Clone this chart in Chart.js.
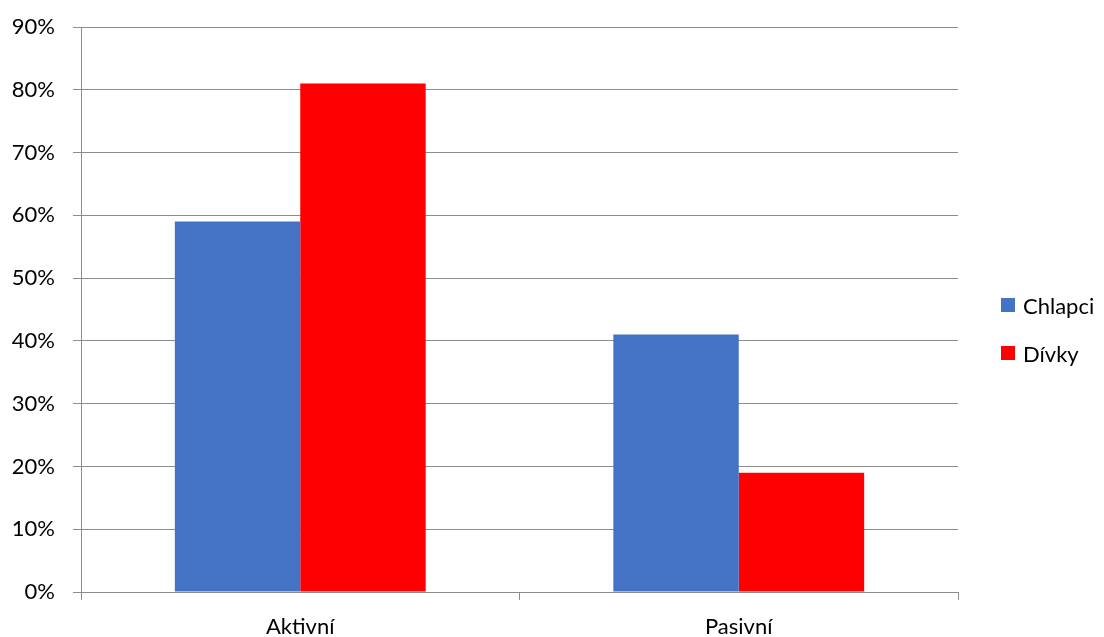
<!DOCTYPE html>
<html>
<head>
<meta charset="utf-8">
<script src="https://cdn.jsdelivr.net/npm/chart.js@4/dist/chart.umd.min.js"></script>
<style>
  body { margin: 0; background: #fff; }
  #wrap { position: relative; width: 1104px; height: 637px; overflow: hidden; }
  #legenda { position: absolute; left: 1001px; top: 293px; font-family: Lato, sans-serif; font-size: 22px; color: #000; }
  #legenda .polozka { display: flex; align-items: center; height: 24px; margin-bottom: 24px; }
  #legenda .ctverec { width: 14px; height: 14px; margin-right: 8px; }
</style>
</head>
<body>
<div id="wrap">
  <canvas id="graf" width="1104" height="637"></canvas>
  <div id="legenda"></div>
</div>
<script>
// kategorie a hodnoty (v %)
const kategorie = ['Aktivní', 'Pasivní'];
const chlapci = [59, 41];
const divky = [81, 19];
const osaY = [0, 10, 20, 30, 40, 50, 60, 70, 80, 90];

const seda = '#8c8c8c';

const graf = new Chart(document.getElementById('graf'), {
    type: 'bar',
    data: {
        labels: kategorie,
        datasets: [
            { label: 'Chlapci', data: chlapci, backgroundColor: '#4472C4' },
            { label: 'Dívky', data: divky, backgroundColor: '#FF0000' }
        ]
    },
    options: {
        responsive: false,
        devicePixelRatio: 1,
        animation: false,
        layout: { padding: { top: 27, right: 146, bottom: 0, left: 0 } },
        datasets: { bar: { categoryPercentage: 0.572, barPercentage: 1 } },
        plugins: { legend: { display: false }, tooltip: { enabled: false } },
        scales: {
            x: {
                grid: { drawOnChartArea: false, drawTicks: true, tickLength: 8, color: seda },
                border: { color: seda },
                ticks: { padding: 14, color: '#000', font: { family: 'Lato', size: 22 } },
                afterFit: s => { s.height = 45; }
            },
            y: {
                min: osaY[0],
                max: osaY[osaY.length - 1],
                afterBuildTicks: s => { s.ticks = osaY.map(v => ({ value: v })); },
                grid: { color: seda, tickLength: 8 },
                border: { color: seda },
                ticks: { padding: 18, color: '#000', font: { family: 'Lato', size: 22 }, callback: v => v + '%' },
                // pevna sirka osy a bez extra mezery nahore
                afterFit: s => { s.width = 81; s.paddingTop = 13; }
            }
        }
    }
});

// legenda vpravo
const legenda = document.getElementById('legenda');
graf.data.datasets.forEach(ds => {
    const p = document.createElement('div');
    p.className = 'polozka';
    const c = document.createElement('span');
    c.className = 'ctverec';
    c.style.background = ds.backgroundColor;
    const t = document.createElement('span');
    t.textContent = ds.label;
    p.appendChild(c);
    p.appendChild(t);
    legenda.appendChild(p);
});
</script>
</body>
</html>
